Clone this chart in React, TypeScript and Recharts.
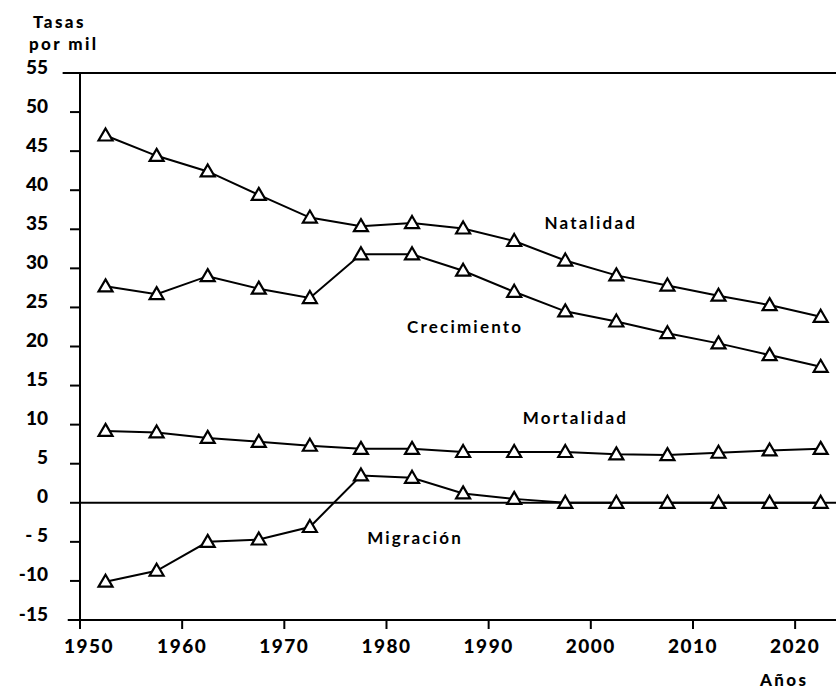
import { LineChart, Line, XAxis, YAxis, ReferenceLine, ReferenceDot } from "recharts";

// años centrales de cada quinquenio
const YEARS = [1952.5, 1957.5, 1962.5, 1967.5, 1972.5, 1977.5, 1982.5, 1987.5, 1992.5, 1997.5, 2002.5, 2007.5, 2012.5, 2017.5, 2022.5];
const NATALIDAD = [47.0, 44.4, 42.4, 39.4, 36.5, 35.4, 35.8, 35.1, 33.5, 31.0, 29.1, 27.8, 26.5, 25.3, 23.8];
const CRECIMIENTO = [27.7, 26.7, 29.0, 27.4, 26.2, 31.8, 31.8, 29.7, 27.0, 24.5, 23.2, 21.7, 20.4, 18.9, 17.4];
const MORTALIDAD = [9.2, 9.0, 8.3, 7.8, 7.3, 6.9, 6.9, 6.5, 6.5, 6.5, 6.2, 6.1, 6.4, 6.7, 6.9];
const MIGRACION = [-10.1, -8.7, -5.0, -4.7, -3.1, 3.5, 3.2, 1.2, 0.5, 0, 0, 0, 0, 0, 0];

const X_TICKS = [1950, 1960, 1970, 1980, 1990, 2000, 2010, 2020];
const Y_TICKS = [-15, -10, -5, 0, 5, 10, 15, 20, 25, 30, 35, 40, 45, 50, 55];
const Y_LABELS = ["-15", "-10", "- 5", "0", "5", "10", "15", "20", "25", "30", "35", "40", "45", "50", "55"];

const data = YEARS.map((year, i) => ({
  year,
  natalidad: NATALIDAD[i],
  crecimiento: CRECIMIENTO[i],
  mortalidad: MORTALIDAD[i],
  migracion: MIGRACION[i],
}));

const FONT = "Lato, 'DejaVu Sans', sans-serif";

function Triangle(props: any) {
  const { cx, cy, key } = props;
  if (cx == null || cy == null) return null;
  return (
    <path
      key={key}
      d={`M${cx},${cy - 7} L${cx + 7},${cy + 5} L${cx - 7},${cy + 5} Z`}
      fill="#fff"
      stroke="#000"
      strokeWidth={2.2}
    />
  );
}

function YTick({ x, y, payload }: any) {
  const label = Y_LABELS[Y_TICKS.indexOf(payload.value)];
  return (
    <text x={x - 22} y={y - 7} textAnchor="end" dominantBaseline="central"
      fontFamily={FONT} fontWeight={900} fontSize={19} fill="#000">
      {label}
    </text>
  );
}

function XTick({ x, y, payload }: any) {
  return (
    <text x={x + (payload.value === 1950 ? 9 : 0)} y={y + 16} textAnchor="middle" dominantBaseline="central"
      fontFamily={FONT} fontWeight={900} fontSize={19} letterSpacing={1.5} fill="#000">
      {payload.value}
    </text>
  );
}

function seriesLabel(text: string) {
  return (p: any) => (
    <text x={p.cx} y={p.cy} textAnchor="middle" dominantBaseline="central"
      fontFamily={FONT} fontWeight={700} fontSize={17} letterSpacing={2.2} fill="#000">
      {text}
    </text>
  );
}

const txt = { fontFamily: FONT, fontWeight: 900, fontSize: 17, letterSpacing: 2.4, color: "#000", lineHeight: "20px" } as const;

export default function App() {
  return (
    <div style={{ position: "absolute", left: 0, top: 0, width: 836, height: 690, background: "#fff" }}>
      <div style={{ ...txt, position: "absolute", left: 33, top: 12 }}>Tasas</div>
      <div style={{ ...txt, position: "absolute", left: 29, top: 34 }}>por mil</div>
      <div style={{ ...txt, position: "absolute", left: 760, top: 670 }}>Años</div>
      <LineChart width={836} height={690} data={data} margin={{ top: 73, right: 0, bottom: 0, left: 0 }}>
        <XAxis
          dataKey="year"
          type="number"
          domain={[1950, 2024]}
          ticks={X_TICKS}
          tick={<XTick />}
          tickSize={9}
          tickMargin={0}
          height={70}
          axisLine={{ stroke: "#000", strokeWidth: 2 }}
          tickLine={{ stroke: "#000", strokeWidth: 2 }}
          allowDataOverflow
        />
        <YAxis
          type="number"
          domain={[-15, 55]}
          ticks={Y_TICKS}
          tick={<YTick />}
          tickSize={10}
          tickMargin={0}
          width={80}
          interval={0}
          axisLine={{ stroke: "#000", strokeWidth: 2 }}
          tickLine={{ stroke: "#000", strokeWidth: 2 }}
        />
        <ReferenceLine segment={[{ x: 1948.3, y: 55 }, { x: 2024, y: 55 }]} ifOverflow="visible" stroke="#000" strokeWidth={2} />
        <ReferenceLine segment={[{ x: 1948.8, y: -15 }, { x: 1950, y: -15 }]} ifOverflow="visible" stroke="#000" strokeWidth={2} />
        <ReferenceLine y={0} stroke="#000" strokeWidth={2} />
        <Line dataKey="natalidad" type="linear" stroke="#000" strokeWidth={2} dot={Triangle} isAnimationActive={false} />
        <Line dataKey="crecimiento" type="linear" stroke="#000" strokeWidth={2} dot={Triangle} isAnimationActive={false} />
        <Line dataKey="mortalidad" type="linear" stroke="#000" strokeWidth={2} dot={Triangle} isAnimationActive={false} />
        <Line dataKey="migracion" type="linear" stroke="#000" strokeWidth={2} dot={Triangle} isAnimationActive={false} />
        <ReferenceDot x={2000} y={35.9} r={0} shape={seriesLabel("Natalidad")} />
        <ReferenceDot x={1987.7} y={22.5} r={0} shape={seriesLabel("Crecimiento")} />
        <ReferenceDot x={1998.5} y={10.9} r={0} shape={seriesLabel("Mortalidad")} />
        <ReferenceDot x={1982.8} y={-4.4} r={0} shape={seriesLabel("Migración")} />
      </LineChart>
    </div>
  );
}
